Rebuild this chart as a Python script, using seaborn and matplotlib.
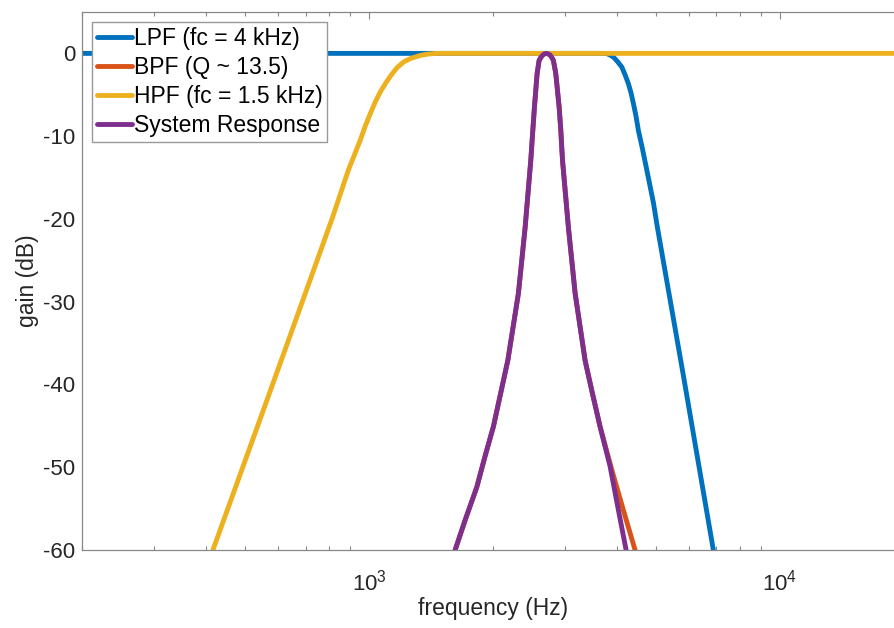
import numpy as np
import pandas as pd
import matplotlib
matplotlib.use("Agg")
import matplotlib.pyplot as plt
import seaborn as sns
from matplotlib.ticker import LogLocator, FixedLocator

# ---- data ----
lpf_f = [200, 3648, 3785, 3858, 3931, 4024, 4120, 4197, 4275, 4340, 4397, 4462,
         4521, 4615, 4740, 4917, 5029, 5817, 6882]
lpf_db = [0, 0, -0.02, -0.2, -0.45, -1.0, -1.65, -2.6, -3.66, -4.8, -6.07, -7.6,
          -9.3, -11.3, -14.1, -18.0, -21.0, -38.9, -60]

bpf_f = [1619, 1712, 1828, 1915, 2006, 2175, 2308, 2397, 2474, 2502, 2525, 2563, 2592,
         2620, 2645, 2670, 2696, 2725, 2757, 2780, 2808, 2846, 2900, 2927, 2955, 3054,
         3172, 3354, 3488, 3648, 3895, 4157, 4438]
bpf_db = [-60, -56.4, -52.4, -48.65, -45.1, -37.1, -29.0, -21.0, -12.9, -9.3, -6.5, -2.45, -0.85,
          -0.45, -0.2, -0.05, 0, -0.05, -0.2, -0.45, -0.85, -2.45, -6.5, -9.3, -12.9, -21.0,
          -29.0, -37.1, -40.9, -45.1, -50.3, -55.2, -60]

hpf_f = [416.6, 582, 812, 890, 951, 978, 1006, 1034, 1063, 1100, 1136, 1170, 1212,
         1258, 1331, 1392, 1461, 20000]
hpf_db = [-60, -40, -20, -14.1, -10.5, -8.8, -7.3, -5.9, -4.7, -3.5, -2.5, -1.7, -1.05,
          -0.64, -0.25, -0.08, 0, 0]

sys_f = [1619, 1712, 1828, 1915, 2006, 2175, 2308, 2397, 2474, 2502, 2525, 2563, 2592,
         2620, 2645, 2670, 2696, 2725, 2757, 2780, 2808, 2846, 2900, 2927, 2955, 3054,
         3172, 3354, 3488, 3648, 3858, 4043, 4221]
sys_db = [-60, -56.4, -52.4, -48.65, -45.1, -37.1, -29.0, -21.0, -12.9, -9.3, -6.5, -2.45, -0.85,
          -0.45, -0.2, -0.05, 0, -0.05, -0.2, -0.45, -0.85, -2.45, -6.5, -9.3, -12.9, -21.0,
          -29.0, -37.1, -40.9, -45.1, -49.9, -55.2, -60]

labels = ["LPF (fc = 4 kHz)", "BPF (Q ~ 13.5)", "HPF (fc = 1.5 kHz)", "System Response"]
colors = ["#0072BD", "#D95319", "#EDB120", "#7E2F8E"]
y_ticks = [-60, -50, -40, -30, -20, -10, 0]

sns.set_style("white")
plt.rcParams["font.family"] = ["Liberation Sans", "DejaVu Sans"]
plt.rcParams["mathtext.fontset"] = "custom"
plt.rcParams["mathtext.rm"] = "Liberation Sans"
plt.rcParams["axes.unicode_minus"] = False

W, H = 895, 628
fig = plt.figure(figsize=(W / 100, H / 100), dpi=100)
ax_l, ax_t, ax_b = 82, 12, 550
ax_r = 903.7
ax = fig.add_axes([ax_l / W, 1 - ax_b / H, (ax_r - ax_l) / W, (ax_b - ax_t) / H])

series = [(lpf_f, lpf_db), (bpf_f, bpf_db), (hpf_f, hpf_db), (sys_f, sys_db)]
for (f, g), lab, c in zip(series, labels, colors):
    df = pd.DataFrame({"f": f, "g": g})
    sns.lineplot(data=df, x="f", y="g", ax=ax, color=c, linewidth=3.5,
                 label=lab, sort=False, estimator=None)
for ln in ax.get_lines():
    ln.set_solid_joinstyle("round")

ax.set_xscale("log")
ax.set_xlim(200, 20000)
ax.set_ylim(-60, 5)
ax.yaxis.set_major_locator(FixedLocator(y_ticks))
ax.xaxis.set_major_locator(LogLocator(base=10, numticks=10))
ax.xaxis.set_minor_locator(LogLocator(base=10, subs=np.arange(2, 10), numticks=20))

txt = "#262626"
ax.tick_params(axis="both", which="major", direction="in", length=4.8, width=0.8,
               colors="#888888", labelcolor=txt, labelsize=16, top=True, right=True)
ax.tick_params(axis="x", which="minor", direction="in", length=3.2, width=0.8,
               colors="#888888", top=True, bottom=True)
ax.tick_params(axis="x", which="major", pad=14)
ax.tick_params(axis="y", which="major", pad=5)
for s in ax.spines.values():
    s.set_color("#888888")
    s.set_linewidth(0.9)

ax.set_xlabel("frequency (Hz)", fontsize=16.5, color=txt, labelpad=1)
ax.set_ylabel("gain (dB)", fontsize=16.5, color=txt, labelpad=3)

leg = ax.legend(loc="upper left", bbox_to_anchor=(10 / (ax_r - ax_l), 1 - 10 / (ax_b - ax_t)),
                borderaxespad=0, fontsize=16.5, frameon=True, fancybox=False,
                framealpha=1, edgecolor="#999999", handlelength=1.55,
                handletextpad=0.08, borderpad=0.2, labelspacing=0.27)
leg.get_frame().set_linewidth(1.0)
for t in leg.get_texts():
    t.set_color("#000000")

fig.savefig("out.png", dpi=100)
